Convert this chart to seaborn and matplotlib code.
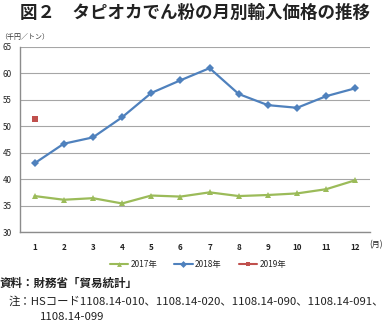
import matplotlib
matplotlib.use("Agg")
import matplotlib.pyplot as plt
import seaborn as sns
import pandas as pd

months = list(range(1, 13))
v2017 = [36.8, 36.1, 36.4, 35.4, 36.9, 36.7, 37.5, 36.8, 37.0, 37.3, 38.1, 39.8]
v2018 = [43.0, 46.7, 47.9, 51.7, 56.3, 58.7, 61.0, 56.1, 54.0, 53.5, 55.7, 57.2]
v2019 = [51.3]
series_names = ["2017年", "2018年", "2019年"]
yticks = [30, 35, 40, 45, 50, 55, 60, 65]

sns.set_theme(style="white")
plt.rcParams['font.family'] = ['Noto Sans CJK JP', 'DejaVu Sans']

rows = []
for m, v in zip(months, v2017):
    rows.append({"month": m, "value": v, "series": series_names[0]})
for m, v in zip(months, v2018):
    rows.append({"month": m, "value": v, "series": series_names[1]})
for m, v in zip(months[:len(v2019)], v2019):
    rows.append({"month": m, "value": v, "series": series_names[2]})
df = pd.DataFrame(rows)

palette = {"2017年": "#9BBB59", "2018年": "#4F81BD", "2019年": "#C0504D"}
markers = {"2017年": "^", "2018年": "D", "2019年": "s"}

fig = plt.figure(figsize=(3.89, 3.24), dpi=100)
ax = fig.add_axes([20/389, 1-232/324, 350/389, 185/324])

sns.lineplot(data=df, x="month", y="value", hue="series", style="series",
             palette=palette, markers=markers, dashes=False, linewidth=1.6,
             markersize=4, markeredgewidth=0, ax=ax, legend=False)

ax.set_xlim(0.5, 12.5)
ax.set_ylim(30, 65)
ax.set_yticks(yticks)
ax.set_xticks(months)
ax.yaxis.grid(True, color="#a6a6a6", linewidth=0.8)
ax.set_axisbelow(True)
for s in ["top", "right"]:
    ax.spines[s].set_visible(False)
for s in ["left", "bottom"]:
    ax.spines[s].set_color("#8c8c8c")
    ax.spines[s].set_linewidth(1.0)
ax.set_xlabel("")
ax.set_ylabel("")
ax.tick_params(axis="both", labelsize=5.8, length=0, colors="#222222")
ax.tick_params(axis="y", pad=6)
ax.tick_params(axis="x", pad=8)
for lbl in ax.get_xticklabels():
    lbl.set_fontweight("bold")

fig.text(195/389, 1-13/324, "図２　タピオカでん粉の月別輸入価格の推移",
         ha="center", va="center", fontsize=12.6, fontweight="bold", color="#222222")
fig.text(0/389, 1-37/324, "（千円／トン）", ha="left", va="center", fontsize=5, color="#333333")
fig.text(369/389, 1-245/324, "(月)", ha="left", va="center", fontsize=5.8, color="#222222")

from matplotlib.lines import Line2D
handles = [Line2D([0], [0], color=palette[n], marker=markers[n], markersize=3.5,
                  markeredgewidth=0, linewidth=1.5) for n in series_names]
fig.legend(handles, series_names, loc="center", bbox_to_anchor=(198/389, 1-264/324),
           ncol=3, frameon=False, fontsize=6, handlelength=2.2, columnspacing=2.0,
           handletextpad=0.3)

fig.text(0/389, 1-283/324, "資料：財務省「貿易統計」", ha="left", va="center",
         fontsize=8.3, fontweight="bold", color="#222222")
fig.text(9/389, 1-301/324, "注：HSコード1108.14-010、1108.14-020、1108.14-090、1108.14-091、",
         ha="left", va="center", fontsize=8.2, color="#222222")
fig.text(40/389, 1-317/324, "1108.14-099", ha="left", va="center", fontsize=8.2, color="#222222")

fig.savefig("out.png", dpi=100)
